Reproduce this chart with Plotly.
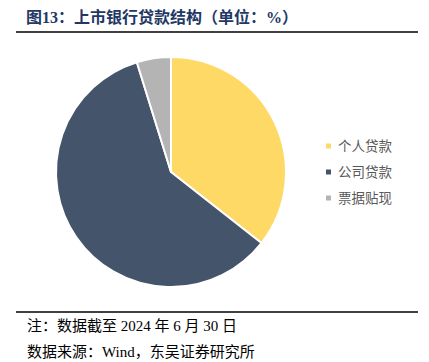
import plotly.graph_objects as go

labels = ["个人贷款", "公司贷款", "票据贴现"]
values = [35.6, 59.6, 4.8]
colors = ["#FFD966", "#44546A", "#B4B4B4"]

W, H = 429, 362
CJK = "Liberation Serif, Noto Sans CJK SC, serif"

fig = go.Figure(go.Pie(
    labels=labels, values=values, sort=False, direction="clockwise", rotation=0,
    marker=dict(colors=colors, line=dict(color="white", width=2)),
    textinfo="none", hoverinfo="label+value", showlegend=False,
    domain=dict(x=[56/W, 286/W], y=[(H-287)/H, (H-57)/H]),
))

annotations = [
    dict(text="<b>图13：上市银行贷款结构（单位：%）</b>", x=24/W, y=(H-17)/H,
         xref="paper", yref="paper", xanchor="left", yanchor="middle", showarrow=False,
         font=dict(family=CJK, size=16, color="#1F3864")),
    dict(text="注：数据截至 2024 年 6 月 30 日", x=25/W, y=(H-326)/H,
         xref="paper", yref="paper", xanchor="left", yanchor="middle", showarrow=False,
         font=dict(family=CJK, size=15, color="#000000")),
    dict(text="数据来源：Wind，东吴证券研究所", x=25/W, y=(H-352)/H,
         xref="paper", yref="paper", xanchor="left", yanchor="middle", showarrow=False,
         font=dict(family=CJK, size=15, color="#000000")),
]
shapes = [
    dict(type="line", xref="paper", yref="paper", x0=16/W, x1=418/W, y0=(H-32)/H, y1=(H-32)/H,
         line=dict(color="#000000", width=1.5)),
    dict(type="line", xref="paper", yref="paper", x0=16/W, x1=418/W, y0=(H-312)/H, y1=(H-312)/H,
         line=dict(color="#000000", width=1.5)),
]

# legend built from the data lists
for i, (lab, col) in enumerate(zip(labels, colors)):
    yc = 146 + 26 * i
    shapes.append(dict(type="rect", xref="paper", yref="paper",
                       x0=326/W, x1=331/W, y0=(H-yc-2.5)/H, y1=(H-yc+2.5)/H,
                       fillcolor=col, line=dict(width=0)))
    annotations.append(dict(text=lab, x=336/W, y=(H-yc)/H, xref="paper", yref="paper",
                            xanchor="left", yanchor="middle", showarrow=False,
                            font=dict(family=CJK, size=13.5, color="#595959")))

fig.update_layout(
    width=W, height=H, margin=dict(l=0, r=0, t=0, b=0),
    paper_bgcolor="white", plot_bgcolor="white",
    showlegend=False, annotations=annotations, shapes=shapes,
)

fig.write_html("out.html", config={"displayModeBar": False},
               post_script="document.body.style.margin='0';document.body.style.padding='0';")
